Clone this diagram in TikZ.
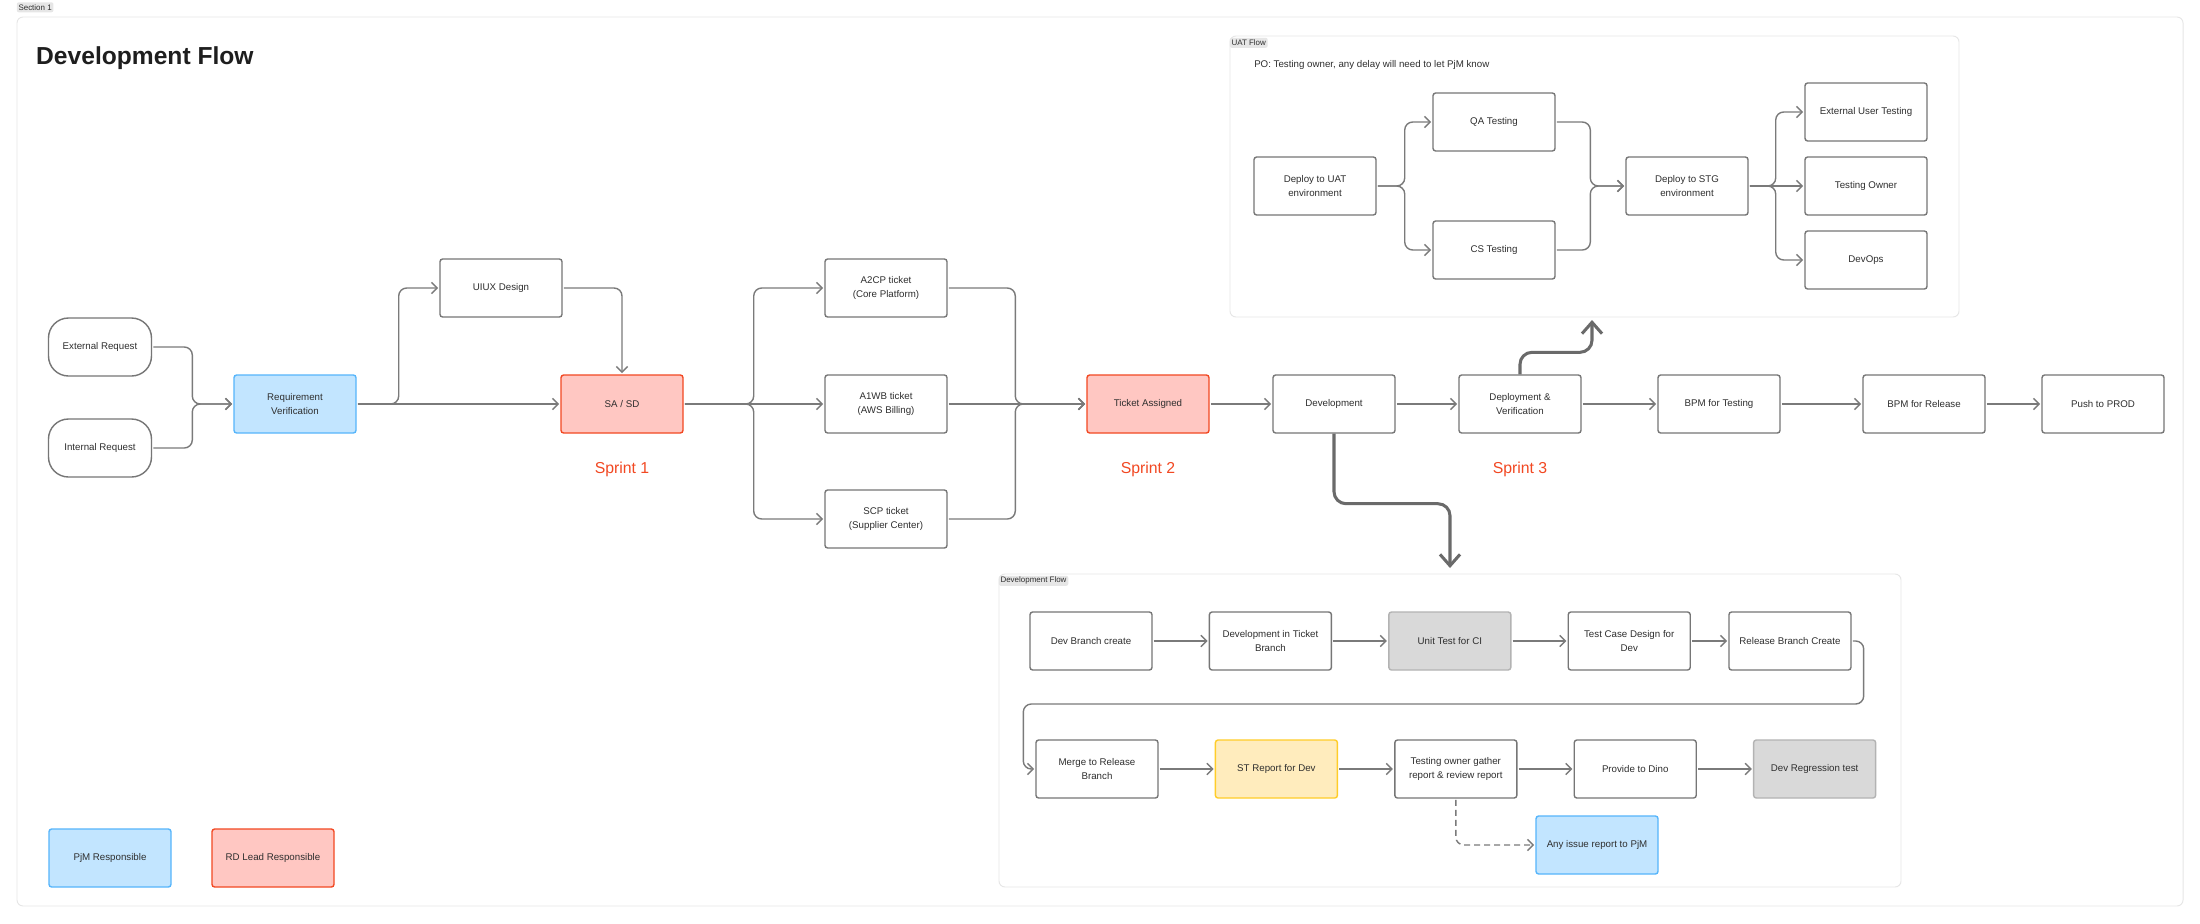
\documentclass[tikz,border=0pt]{standalone}
\usepackage{fontspec}
\setmainfont{Liberation Sans}
\usetikzlibrary{positioning, arrows.meta, calc}

\definecolor{boxline}{HTML}{767676}
\definecolor{linegray}{HTML}{7A7A7A}
\definecolor{darkline}{HTML}{6A6A6A}
\definecolor{txt}{HTML}{2E2E2E}
\definecolor{titleblack}{HTML}{1E1E1E}
\definecolor{pjmfill}{HTML}{C2E5FF}
\definecolor{pjmline}{HTML}{56B5FB}
\definecolor{rdfill}{HTML}{FFC7C2}
\definecolor{rdline}{HTML}{F24822}
\definecolor{stfill}{HTML}{FFECBD}
\definecolor{stline}{HTML}{FFCD29}
\definecolor{cifill}{HTML}{D9D9D9}
\definecolor{ciline}{HTML}{B3B3B3}
\definecolor{panelline}{HTML}{E6E6E6}
\definecolor{sprintred}{HTML}{F24822}

\begin{document}
\begin{tikzpicture}[
    x=0.3mm, y=-0.3mm,
    >={Straight Barb[length=1.7mm,width=3.4mm]},
    node distance = 16.8mm,
    box/.style={draw=boxline, line width=1.2pt, rounded corners=0.8mm, fill=white, minimum width=36.6mm, minimum height=17.4mm, align=center, text=txt, font=\fontsize{8.3}{12.2}\selectfont, inner sep=1mm},
    request/.style={box, rounded corners=6mm, minimum width=30.9mm},
    pjm/.style={box, draw=pjmline, fill=pjmfill},
    rdlead/.style={box, draw=rdline, fill=rdfill},
    stbox/.style={box, draw=stline, fill=stfill},
    cibox/.style={box, draw=ciline, fill=cifill},
    conn/.style={->, draw=linegray, line width=1.2pt, rounded corners=2.4mm, shorten <=1pt, shorten >=1pt},
    bigarrow/.style={-{Straight Barb[length=3.4mm,width=6mm]}, draw=darkline, line width=2.6pt, rounded corners=3.6mm},
    panel/.style={draw=panelline, line width=0.8pt, rounded corners=1.8mm, fill=white},
    tag/.style={fill=panelline, rounded corners=0.6mm, font=\fontsize{6.8}{8}\selectfont, text=txt, inner xsep=1.5pt, inner ysep=0.6pt, minimum height=3mm},
    sprint/.style={text=sprintred, font=\fontsize{13.5}{15}\selectfont, anchor=base},
]
\useasboundingbox (0,0) rectangle (2200,923);

% frames
\node[panel, minimum width=649.8mm, minimum height=266.7mm] (section) at (1100,461.5) {};
\node[tag, anchor=south west] (sectiontag) at ($(section.north west)+(0,-4)$) {Section 1};
\node[anchor=base west, inner sep=0, font=\fontsize{21}{24}\selectfont\bfseries, text=titleblack] (title) at (36,64) {Development Flow};

\node[panel, minimum width=218.7mm, minimum height=84.3mm] (uatflow) at (1594.5,176.5) {};
\node[tag, anchor=north west] (uattag) at ($(uatflow.north west)+(0,2)$) {UAT Flow};
\node[panel, minimum width=270.6mm, minimum height=93.9mm] (devflow) at (1450,730.5) {};
\node[tag, anchor=north west] (devtag) at ($(devflow.north west)+(0,2)$) {Development Flow};

% main flow
\node[request] (extreq) at (100,347) {External Request};
\node[request] (intreq) at (100,448) {Internal Request};
\node[pjm] (reqver) at (295,404) {Requirement\\Verification};
\node[box] (uiux) at (501,288) {UIUX Design};
\node[rdlead] (sasd) at (622,404) {SA / SD};
\node[sprint] (sprint1) at (622,473) {Sprint 1};
\node[box] (a2cp) at (886,288) {A2CP ticket\\(Core Platform)};
\node[box] (a1wb) at (886,404) {A1WB ticket\\(AWS Billing)};
\node[box] (scp) at (886,519) {SCP ticket\\(Supplier Center)};
\node[rdlead] (assigned) at (1148,404) {Ticket Assigned};
\node[sprint] (sprint2) at (1148,473) {Sprint 2};
\node[box] (devel) at (1334,404) {Development};
\node[box] (deploy) at (1520,404) {Deployment \&\\Verification};
\node[sprint] (sprint3) at (1520,473) {Sprint 3};
\node[box] (bpmtest) at (1719,404) {BPM for Testing};
\node[box] (bpmrel) at (1924,404) {BPM for Release};
\node[box] (prod) at (2103,404) {Push to PROD};

% UAT flow
\node[anchor=base west, inner sep=0, text=txt, font=\fontsize{8.3}{10}\selectfont] (ponote) at (1254,67) {PO: Testing owner, any delay will need to let PjM know};
\node[box] (uatdeploy) at (1315,186) {Deploy to UAT\\environment};
\node[box] (qatest) at (1494,122) {QA Testing};
\node[box] (cstest) at (1494,250) {CS Testing};
\node[box] (stgdeploy) at (1687,186) {Deploy to STG\\environment};
\node[box] (extuser) at (1866,112) {External User Testing};
\node[box] (owner) at (1866,186) {Testing Owner};
\node[box] (devops) at (1866,260) {DevOps};

% development flow
\node[box] (branch) at (1091,641) {Dev Branch create};
\node[box, right=of branch] (ticketdev) {Development in Ticket\\Branch};
\node[cibox, right=of ticketdev] (unittest) {Unit Test for CI};
\node[box, right=of unittest] (casedesign) {Test Case Design for\\Dev};
\node[box, right=11.2mm of casedesign] (relbranch) {Release Branch Create};
\node[box] (merge) at (1097,769) {Merge to Release\\Branch};
\node[stbox, right=of merge] (streport) {ST Report for Dev};
\node[box, right=of streport] (gather) {Testing owner gather\\report \& review report};
\node[box, right=of gather] (dino) {Provide to Dino};
\node[cibox, right=of dino] (regression) {Dev Regression test};
\node[pjm] (issue) at (1597,845) {Any issue report to PjM};

% legend
\node[pjm] (legpjm) at (110,858) {PjM Responsible};
\node[rdlead] (legrd) at (273,858) {RD Lead Responsible};

% requests into verification
\coordinate (inmerge) at ($(reqver.west)+(-41,0)$);
\draw[conn] (extreq.east) -| (inmerge) -- (reqver.west);
\draw[conn] (intreq.east) -| (inmerge) -- (reqver.west);

% verification to design
\coordinate (uxsplit) at ($(reqver.east)+(42,0)$);
\draw[conn] (reqver.east) -- (sasd.west);
\draw[conn] (reqver.east) -- (uxsplit) |- (uiux.west);
\draw[conn] (uiux.east) -| (sasd.north);

% tickets
\coordinate (tksplit) at ($(sasd.east)+(70,0)$);
\coordinate (tkmerge) at ($(assigned.west)+(-71,0)$);
\draw[conn] (sasd.east) -- (a1wb.west);
\draw[conn] (sasd.east) -- (tksplit) |- (a2cp.west);
\draw[conn] (sasd.east) -- (tksplit) |- (scp.west);
\draw[conn] (a1wb.east) -- (assigned.west);
\draw[conn] (a2cp.east) -| (tkmerge) -- (assigned.west);
\draw[conn] (scp.east) -| (tkmerge) -- (assigned.west);

\foreach \a/\b in {assigned/devel, devel/deploy, deploy/bpmtest, bpmtest/bpmrel, bpmrel/prod}
    \draw[conn] (\a.east) -- (\b.west);

% UAT links
\coordinate (uatsplit) at ($(uatdeploy.east)+(28,0)$);
\coordinate (uatmerge) at ($(stgdeploy.west)+(-35,0)$);
\coordinate (stgsplit) at ($(stgdeploy.east)+(27,0)$);
\draw[conn] (uatdeploy.east) -- (uatsplit) |- (qatest.west);
\draw[conn] (uatdeploy.east) -- (uatsplit) |- (cstest.west);
\draw[conn] (qatest.east) -| (uatmerge) -- (stgdeploy.west);
\draw[conn] (cstest.east) -| (uatmerge) -- (stgdeploy.west);
\draw[conn] (stgdeploy.east) -- (owner.west);
\draw[conn] (stgdeploy.east) -- (stgsplit) |- (extuser.west);
\draw[conn] (stgdeploy.east) -- (stgsplit) |- (devops.west);

% big jumps
\coordinate (uatin) at (1592,320);
\coordinate (devin) at (1450,568);
\draw[bigarrow] (deploy.north) -- ++(0,-22) -| (uatin);
\draw[bigarrow] (devel.south) -- ++(0,70) -| (devin);

% dev flow links
\foreach \a/\b in {branch/ticketdev, ticketdev/unittest, unittest/casedesign, casedesign/relbranch, merge/streport, streport/gather, gather/dino, dino/regression}
    \draw[conn] (\a.east) -- (\b.west);
\coordinate (wrapright) at ($(relbranch.east)+(12,63)$);
\coordinate (wrapleft) at ($(merge.west)+(-12,0)$);
\draw[conn] (relbranch.east) -| (wrapright) -| (wrapleft) -- (merge.west);
\draw[conn, dash pattern=on 1.8mm off 1.2mm] (gather.south) |- (issue.west);

\end{tikzpicture}
\end{document}
